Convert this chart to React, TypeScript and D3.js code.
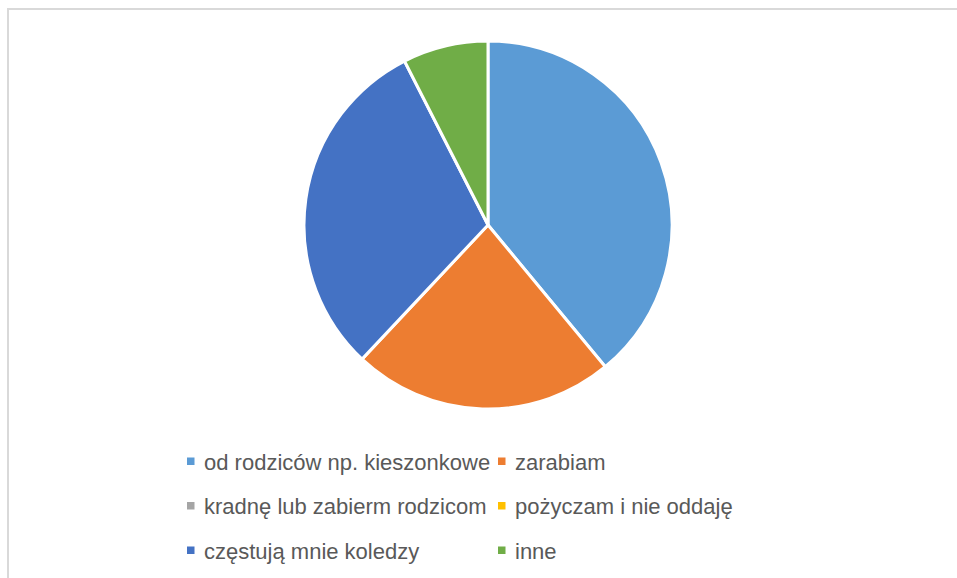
import React from 'react';
import * as d3 from 'd3';

// chart data
const categories = [
  'od rodziców np. kieszonkowe',
  'zarabiam',
  'kradnę lub zabierm rodzicom',
  'pożyczam i nie oddaję',
  'częstują mnie koledzy',
  'inne',
];
const values = [39, 23, 0, 0, 30.5, 7.5];
const colors = ['#5B9BD5', '#ED7D31', '#A5A5A5', '#FFC000', '#4472C4', '#70AD47'];

const W = 957;
const H = 578;

const App: React.FC = () => {
  const cx = 488;
  const cy = 225;
  const r = 184;

  const pie = d3
    .pie<number>()
    .sort(null)
    .value(d => d);
  const arcs = pie(values);
  const arc = d3.arc<d3.PieArcDatum<number>>().innerRadius(0).outerRadius(r);

  // legend: two columns, three rows
  const colX = d3.scaleOrdinal<number, number>().domain([0, 1]).range([187, 498]);
  const rowY = d3.scaleLinear().domain([0, 2]).range([461, 550]);

  return (
    <svg
      width={W}
      height={H}
      style={{ position: 'absolute', left: 0, top: 0, background: '#fff' }}
    >
      <rect x={0} y={0} width={W} height={H} fill="#fff" />
      {/* chart area border (top and left visible) */}
      <line x1={8} y1={9} x2={W} y2={9} stroke="#D9D9D9" strokeWidth={2} />
      <line x1={8} y1={8} x2={8} y2={H} stroke="#D9D9D9" strokeWidth={2} />

      <g transform={`translate(${cx},${cy})`}>
        {arcs.map((a, i) =>
          a.value > 0 ? (
            <path
              key={i}
              d={arc(a) || ''}
              fill={colors[i]}
              stroke="#fff"
              strokeWidth={3}
              strokeLinejoin="round"
            />
          ) : null
        )}
      </g>

      <g fontFamily="'Liberation Sans', Arial, sans-serif" fontSize={22} fill="#595959">
        {categories.map((c, i) => {
          const col = i % 2;
          const row = Math.floor(i / 2);
          const x = colX(col);
          const y = rowY(row);
          return (
            <g key={c}>
              <rect x={x} y={y - 3.5} width={7.5} height={7.5} fill={colors[i]} />
              <text x={x + 17} y={y + 1} dominantBaseline="central">
                {c}
              </text>
            </g>
          );
        })}
      </g>
    </svg>
  );
};

export default App;
